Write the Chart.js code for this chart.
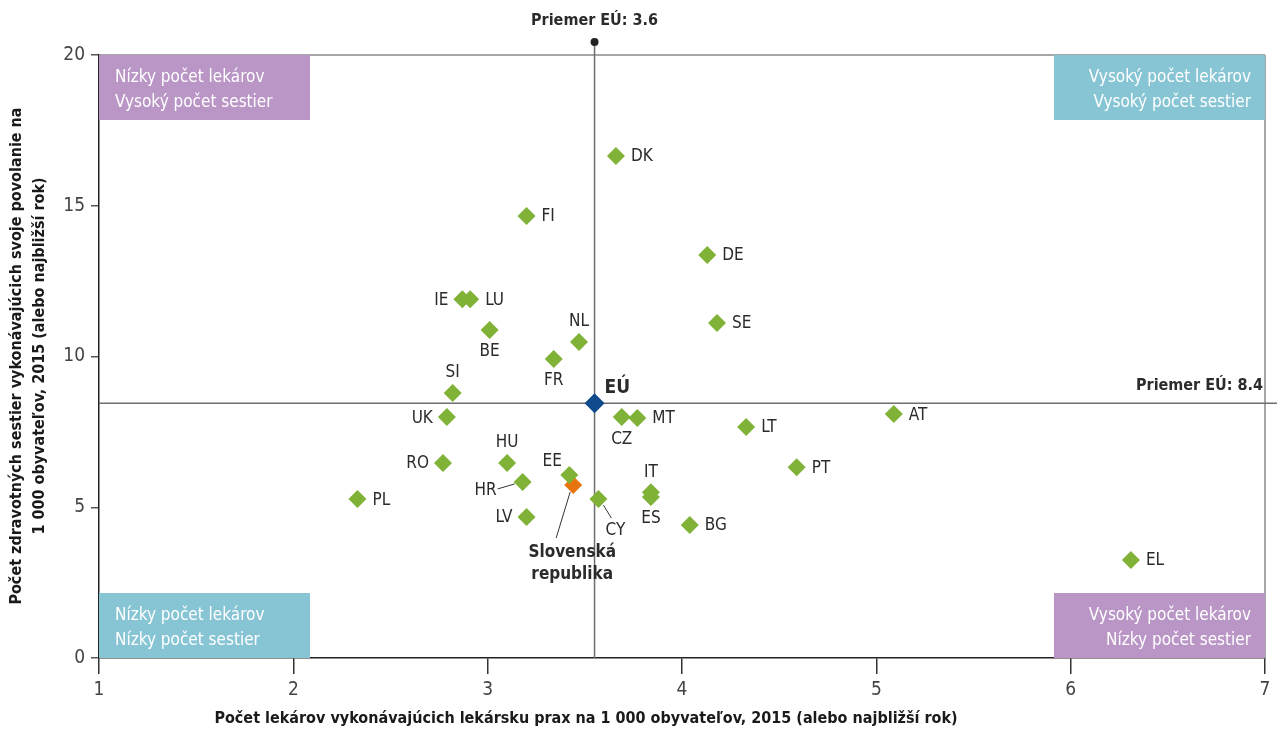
<!DOCTYPE html>
<html>
<head>
<meta charset="utf-8">
<script src="https://cdn.jsdelivr.net/npm/chart.js@4.4.1/dist/chart.umd.min.js"></script>
<style>
  html, body { margin: 0; padding: 0; background: #fff; }
  #wrap { width: 1277px; height: 731px; position: relative; }
</style>
</head>
<body>
<div id="wrap"><canvas id="chart" width="1277" height="731"></canvas></div>
<script>
// data
const countries = ['DK', 'FI', 'DE', 'IE', 'LU', 'BE', 'SE', 'NL', 'FR', 'SI', 'UK', 'CZ', 'MT', 'AT', 'LT',
  'HU', 'RO', 'PT', 'EE', 'HR', 'IT', 'ES', 'CY', 'PL', 'LV', 'BG', 'EL'];
const doctors = [3.66, 3.20, 4.13, 2.87, 2.91, 3.01, 4.18, 3.47, 3.34, 2.82, 2.79, 3.69, 3.77, 5.09, 4.33,
  3.10, 2.77, 4.59, 3.42, 3.18, 3.84, 3.84, 3.57, 2.33, 3.20, 4.04, 6.31];
const nurses = [16.65, 14.66, 13.37, 11.90, 11.90, 10.88, 11.11, 10.48, 9.92, 8.79, 7.99, 7.99, 7.96, 8.09, 7.66,
  6.47, 6.47, 6.33, 6.07, 5.84, 5.50, 5.34, 5.27, 5.27, 4.68, 4.41, 3.25];
const euDoctors = 3.55;
const euNurses = 8.45;
const skDoctors = 3.44;
const skNurses = 5.74;
const xTicks = [1, 2, 3, 4, 5, 6, 7];
const yTicks = [0, 5, 10, 15, 20];

// where each country label sits relative to its marker
const labelSide = {
  DK: 'right', FI: 'right', DE: 'right', IE: 'left', LU: 'right', BE: 'below', SE: 'right', NL: 'above',
  FR: 'below', SI: 'above', UK: 'left', CZ: 'below', MT: 'right', AT: 'right', LT: 'right', HU: 'above',
  RO: 'left', PT: 'right', EE: 'aboveleft', HR: 'leader', IT: 'above', ES: 'below', CY: 'leaderbelow',
  PL: 'right', LV: 'left', BG: 'right', EL: 'right'
};

const FONT = "'Liberation Sans Narrow', 'DejaVu Sans Condensed', 'Roboto', sans-serif";
const GREEN = '#7fb236';
const BLUE = '#0e4a8c';
const ORANGE = '#e8740f';
const PURPLE = '#b996c6';
const TEAL = '#87c5d5';
const TEXT = '#2b2b2b';

const countryPoints = countries.map((c, i) => ({ x: doctors[i], y: nurses[i], label: c }));

const overlay = {
  id: 'overlay',
  beforeDatasetsDraw(chart) {
    const { ctx, chartArea: a, scales: { x, y } } = chart;
    ctx.save();
    // top and right frame lines
    ctx.strokeStyle = '#8a8a8a';
    ctx.lineWidth = 1.5;
    ctx.beginPath();
    ctx.moveTo(a.left, y.getPixelForValue(20));
    ctx.lineTo(a.right, y.getPixelForValue(20));
    ctx.moveTo(x.getPixelForValue(7), a.top);
    ctx.lineTo(x.getPixelForValue(7), a.bottom);
    ctx.stroke();

    // quadrant boxes
    const bw = 211, bh = 65;
    const boxes = [
      [a.left, a.top, PURPLE, ['Nízky počet lekárov', 'Vysoký počet sestier'], 'left'],
      [a.right - bw, a.top, TEAL, ['Vysoký počet lekárov', 'Vysoký počet sestier'], 'right'],
      [a.left, a.bottom - bh, TEAL, ['Nízky počet lekárov', 'Nízky počet sestier'], 'left'],
      [a.right - bw, a.bottom - bh, PURPLE, ['Vysoký počet lekárov', 'Nízky počet sestier'], 'right']
    ];
    ctx.font = '17px ' + FONT;
    ctx.textBaseline = 'middle';
    boxes.forEach(([bx, by, col, lines, al]) => {
      ctx.fillStyle = col;
      ctx.fillRect(bx, by, bw, bh);
      ctx.fillStyle = '#fff';
      ctx.textAlign = al;
      const tx = al === 'left' ? bx + 16 : bx + bw - 14;
      ctx.fillText(lines[0], tx, by + 23);
      ctx.fillText(lines[1], tx, by + 48);
    });

    // EU average lines
    const ex = x.getPixelForValue(euDoctors);
    const ey = y.getPixelForValue(euNurses);
    ctx.strokeStyle = '#6e6e6e';
    ctx.lineWidth = 1.5;
    ctx.beginPath();
    ctx.moveTo(ex, 42);
    ctx.lineTo(ex, a.bottom);
    ctx.moveTo(a.left, ey);
    ctx.lineTo(chart.width, ey);
    ctx.stroke();
    ctx.fillStyle = '#222';
    ctx.beginPath();
    ctx.arc(ex, 42, 4, 0, Math.PI * 2);
    ctx.fill();

    ctx.font = 'bold 16px ' + FONT;
    ctx.fillStyle = TEXT;
    ctx.textAlign = 'center';
    ctx.fillText('Priemer EÚ: 3.6', ex, 21);
    ctx.textAlign = 'right';
    ctx.fillText('Priemer EÚ: 8.4', a.right - 2, ey - 17);

    // leader lines
    ctx.strokeStyle = '#333';
    ctx.lineWidth = 1;
    const hr = countries.indexOf('HR');
    const hx = x.getPixelForValue(doctors[hr]), hy = y.getPixelForValue(nurses[hr]);
    const cy = countries.indexOf('CY');
    const cx = x.getPixelForValue(doctors[cy]), cyy = y.getPixelForValue(nurses[cy]);
    const sx = x.getPixelForValue(skDoctors), sy = y.getPixelForValue(skNurses);
    ctx.beginPath();
    ctx.moveTo(hx - 8, hy + 2);
    ctx.lineTo(hx - 25, hy + 7);
    ctx.moveTo(cx + 5, cyy + 6);
    ctx.lineTo(cx + 13, cyy + 19);
    ctx.moveTo(sx - 3, sy + 7);
    ctx.lineTo(sx - 17, sy + 53);
    ctx.stroke();
    ctx.restore();
  },
  afterDatasetsDraw(chart) {
    const { ctx, chartArea: a, scales: { x, y } } = chart;
    ctx.save();
    ctx.font = '17px ' + FONT;
    ctx.fillStyle = TEXT;
    ctx.textBaseline = 'middle';
    countries.forEach((c, i) => {
      const px = x.getPixelForValue(doctors[i]);
      const py = y.getPixelForValue(nurses[i]);
      const side = labelSide[c];
      if (side === 'right') { ctx.textAlign = 'left'; ctx.fillText(c, px + 15, py + 1); }
      else if (side === 'left') { ctx.textAlign = 'right'; ctx.fillText(c, px - 14, py + 1); }
      else if (side === 'above') { ctx.textAlign = 'center'; ctx.fillText(c, px, py - 20); }
      else if (side === 'below') { ctx.textAlign = 'center'; ctx.fillText(c, px, py + 22); }
      else if (side === 'aboveleft') { ctx.textAlign = 'center'; ctx.fillText(c, px - 17, py - 13); }
      else if (side === 'leader') { ctx.textAlign = 'right'; ctx.fillText(c, px - 26, py + 9); }
      else if (side === 'leaderbelow') { ctx.textAlign = 'center'; ctx.fillText(c, px + 17, py + 31); }
    });
    // EU and Slovakia labels
    const ex = x.getPixelForValue(euDoctors), ey = y.getPixelForValue(euNurses);
    ctx.font = 'bold 19px ' + FONT;
    ctx.textAlign = 'left';
    ctx.fillText('EÚ', ex + 10, ey - 15);
    const sx = x.getPixelForValue(skDoctors), sy = y.getPixelForValue(skNurses);
    ctx.font = 'bold 17px ' + FONT;
    ctx.textAlign = 'center';
    ctx.fillText('Slovenská', sx - 1, sy + 68);
    ctx.fillText('republika', sx - 1, sy + 90);

    // axis titles
    ctx.font = 'bold 16px ' + FONT;
    ctx.fillStyle = '#1a1a1a';
    ctx.fillText('Počet lekárov vykonávajúcich lekársku prax na 1 000 obyvateľov, 2015 (alebo najbližší rok)', 586, 719);
    ctx.save();
    ctx.translate(0, 356);
    ctx.rotate(-Math.PI / 2);
    ctx.fillText('Počet zdravotných sestier vykonávajúcich svoje povolanie na', 0, 17);
    ctx.fillText('1 000 obyvateľov, 2015 (alebo najbližší rok)', 0, 40);
    ctx.restore();
    ctx.restore();
  }
};

new Chart(document.getElementById('chart'), {
  type: 'scatter',
  data: {
    datasets: [
      {
        label: 'Krajiny',
        data: countryPoints,
        pointStyle: 'rectRot',
        pointRadius: 9,
        pointHoverRadius: 9,
        backgroundColor: GREEN,
        borderColor: GREEN,
        borderWidth: 0
      },
      {
        label: 'Slovenská republika',
        data: [{ x: skDoctors, y: skNurses }],
        pointStyle: 'rectRot',
        pointRadius: 9,
        backgroundColor: ORANGE,
        borderColor: ORANGE,
        borderWidth: 0
      },
      {
        label: 'EÚ',
        data: [{ x: euDoctors, y: euNurses }],
        pointStyle: 'rectRot',
        pointRadius: 10,
        backgroundColor: BLUE,
        borderColor: BLUE,
        borderWidth: 0
      }
    ]
  },
  options: {
    responsive: false,
    animation: false,
    layout: { padding: { top: 55, right: 12, left: 0, bottom: 0 } },
    plugins: {
      legend: { display: false },
      tooltip: { enabled: false }
    },
    scales: {
      x: {
        type: 'linear',
        min: 1,
        max: 7,
        afterBuildTicks: (s) => { s.ticks = xTicks.map(v => ({ value: v })); },
        afterFit: (s) => { s.height = 73; },
        grid: { drawOnChartArea: false, tickLength: 16, color: '#333', lineWidth: 1.5 },
        border: { display: true, color: '#222', width: 1.5 },
        ticks: { font: { family: FONT, size: 19 }, color: '#444', padding: 5 }
      },
      y: {
        type: 'linear',
        min: 0,
        max: 20,
        afterBuildTicks: (s) => { s.ticks = yTicks.map(v => ({ value: v })); },
        afterFit: (s) => { s.width = 99; },
        grid: { drawOnChartArea: false, tickLength: 8, color: '#555', lineWidth: 1.5 },
        border: { display: true, color: '#222', width: 1.5 },
        ticks: { font: { family: FONT, size: 19 }, color: '#444', padding: 6 }
      }
    }
  },
  plugins: [overlay]
});
</script>
</body>
</html>
